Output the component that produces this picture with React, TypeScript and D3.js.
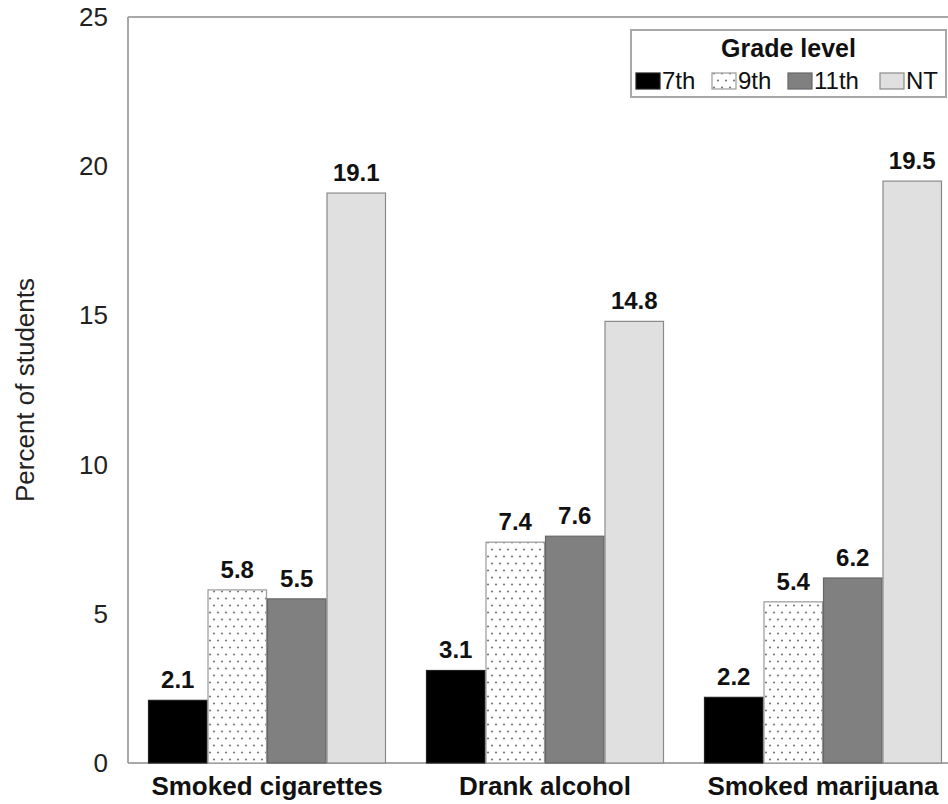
import React from "react";
import * as d3 from "d3";

const categories = ["Smoked cigarettes", "Drank alcohol", "Smoked marijuana"];
const grades = ["7th", "9th", "11th", "NT"];
const values7th = [2.1, 3.1, 2.2];
const values9th = [5.8, 7.4, 5.4];
const values11th = [5.5, 7.6, 6.2];
const valuesNT = [19.1, 14.8, 19.5];
const yTicks = [0, 5, 10, 15, 20, 25];

const seriesValues = [values7th, values9th, values11th, valuesNT];
const fills = ["#000000", "url(#dots)", "#808080", "#e0e0e0"];
const strokes = ["#222222", "#999999", "#666666", "#8a8a8a"];

const W = 948;
const H = 804;
const left = 128;
const right = 962;
const top = 17;
const bottom = 763;
const font = "'Liberation Sans', Arial, Helvetica, sans-serif";

export default function App() {
  const x0 = d3
    .scaleBand<string>()
    .domain(categories)
    .range([left, right])
    .paddingInner(0.1439)
    .paddingOuter(0.072);
  const x1 = d3.scaleBand<string>().domain(grades).range([0, x0.bandwidth()]).padding(0);
  const y = d3.scaleLinear().domain([0, 25]).range([bottom, top]);

  const legendSwatchX = [636, 712, 788, 880];

  return (
    <svg
      width={W}
      height={H}
      style={{ position: "absolute", left: 0, top: 0, background: "#fff" }}
      fontFamily={font}
    >
      <defs>
        <pattern id="dots" width={8} height={14} patternUnits="userSpaceOnUse">
          <rect width={8} height={14} fill="#ffffff" />
          <circle cx={2} cy={3.5} r={1.1} fill="#7a7a7a" />
          <circle cx={6} cy={10.5} r={1.1} fill="#7a7a7a" />
        </pattern>
      </defs>
      <rect width={W} height={H} fill="#fff" />

      {/* frame */}
      <line x1={left} x2={W} y1={top} y2={top} stroke="#a8a8a8" strokeWidth={2} />
      <line x1={left} x2={left} y1={top} y2={bottom} stroke="#a8a8a8" strokeWidth={2} />
      <line x1={left} x2={W} y1={bottom} y2={bottom} stroke="#a8a8a8" strokeWidth={2} />

      {/* y tick labels */}
      {yTicks.map((t) => (
        <text key={t} x={108} y={y(t) + 9} textAnchor="end" fontSize={26} fill="#222">
          {t}
        </text>
      ))}

      {/* y axis title */}
      <text
        transform={`translate(34, 390) rotate(-90)`}
        textAnchor="middle"
        fontSize={26}
        fill="#222"
      >
        Percent of students
      </text>

      {/* bars */}
      {categories.map((c, ci) => (
        <g key={c} transform={`translate(${x0(c)},0)`}>
          {grades.map((g, gi) => {
            const v = seriesValues[gi][ci];
            const bx = x1(g) as number;
            const bw = x1.bandwidth();
            return (
              <g key={g}>
                <rect
                  x={bx + 0.5}
                  y={y(v)}
                  width={bw - 1}
                  height={y(0) - y(v)}
                  fill={fills[gi]}
                  stroke={strokes[gi]}
                  strokeWidth={1.2}
                />
                <text
                  x={bx + bw / 2}
                  y={y(v) - 12}
                  textAnchor="middle"
                  fontSize={24}
                  fontWeight="bold"
                  fill="#111"
                >
                  {v.toFixed(1)}
                </text>
              </g>
            );
          })}
        </g>
      ))}

      {/* category labels */}
      {categories.map((c) => (
        <text
          key={c}
          x={(x0(c) as number) + x0.bandwidth() / 2}
          y={795}
          textAnchor="middle"
          fontSize={26}
          fontWeight="bold"
          fill="#111"
        >
          {c}
        </text>
      ))}

      {/* legend */}
      <rect x={631} y={30} width={315} height={67} fill="#fff" stroke="#a8a8a8" strokeWidth={2} />
      <text x={788.5} y={57} textAnchor="middle" fontSize={25} fontWeight="bold" fill="#111">
        Grade level
      </text>
      {grades.map((g, gi) => (
        <g key={g}>
          <rect
            x={legendSwatchX[gi]}
            y={73}
            width={24}
            height={16}
            fill={fills[gi]}
            stroke={strokes[gi]}
            strokeWidth={1.2}
          />
          <text x={legendSwatchX[gi] + 26} y={89} fontSize={24} fill="#111">
            {g}
          </text>
        </g>
      ))}
    </svg>
  );
}
